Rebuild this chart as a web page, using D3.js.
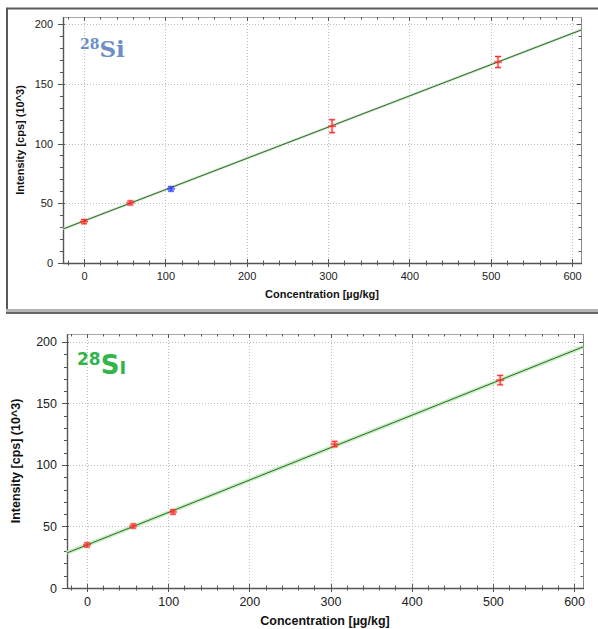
<!DOCTYPE html>
<html>
<head>
<meta charset="utf-8">
<script src="https://cdn.jsdelivr.net/npm/d3@7"></script>
<style>
  body { margin: 0; background: #fff; }
  svg { display: block; font-family: "Liberation Sans", Arial, sans-serif; }
</style>
</head>
<body>
<svg width="598" height="629"></svg>
<script>
// tick values shared by both panels
var xTicks = [0, 100, 200, 300, 400, 500, 600];
var yTicks = [0, 50, 100, 150, 200];

// upper calibration (blue label)
var concTop = [0, 57, 107, 305, 509];
var intensTop = [34.6, 50.3, 62, 114.5, 168.2];
var errTop = [0.9, 0.9, 1, 4.6, 3.8];
var kindTop = ['std', 'std', 'check', 'std', 'std'];
var fitTop = [35.2, 0.2615]; // intercept, slope

// lower calibration (green label)
var concBot = [0, 57, 106, 305, 509];
var intensBot = [35, 50.4, 61.8, 117, 169];
var errBot = [0.9, 0.9, 1, 1.4, 3];
var kindBot = ['std', 'std', 'std', 'std', 'std'];
var fitBot = [35.0, 0.2635];

var svg = d3.select('svg');

// frame around the upper screenshot
svg.append('rect').attr('x', 7).attr('y', 8.5).attr('width', 600).attr('height', 302)
  .attr('fill', 'none').attr('stroke', '#5a5a5a').attr('stroke-width', 2);
svg.append('rect').attr('x', 6).attr('y', 309).attr('width', 600).attr('height', 3).attr('fill', '#b5b5b5');
svg.append('rect').attr('x', 6).attr('y', 312).attr('width', 600).attr('height', 2).attr('fill', '#666');

var panels = [
  {left: 63, top: 17, right: 581, bottom: 263, xdom: [-25.8, 611], ydom: [0, 205.9],
   conc: concTop, intens: intensTop, err: errTop, kind: kindTop, fit: fitTop,
   tickFont: 11, titleFont: 11, xTitleY: 295, yTitleX: 21, labelY: 277,
   tag: {x: 80, y: 57, color: '#6b8fc5', serif: true, sup: 14, main: 23},
   band: 2.6, bandColor: '#c4ecbd'},
  {left: 67, top: 334, right: 583, bottom: 588, xdom: [-24.6, 611], ydom: [0, 206.5],
   conc: concBot, intens: intensBot, err: errBot, kind: kindBot, fit: fitBot,
   tickFont: 12.5, titleFont: 12.5, xTitleY: 622, yTitleX: 17, labelY: 603,
   tag: {x: 77, y: 374, color: '#33b54a', serif: false, sup: 17, main: 26},
   band: 4, bandColor: '#c2f2bb'}
];

panels.forEach(function(p) {
  var x = d3.scaleLinear().domain(p.xdom).range([p.left, p.right]);
  var y = d3.scaleLinear().domain(p.ydom).range([p.bottom, p.top]);
  var g = svg.append('g');

  // dotted grid
  g.selectAll('.gx').data(xTicks).enter().append('line')
    .attr('x1', function(d) { return Math.round(x(d)) + 0.5; })
    .attr('x2', function(d) { return Math.round(x(d)) + 0.5; })
    .attr('y1', p.top).attr('y2', p.bottom)
    .attr('stroke', '#bdbdbd').attr('stroke-dasharray', '1,2');
  g.selectAll('.gy').data(yTicks.slice(1)).enter().append('line')
    .attr('y1', function(d) { return Math.round(y(d)) + 0.5; })
    .attr('y2', function(d) { return Math.round(y(d)) + 0.5; })
    .attr('x1', p.left).attr('x2', p.right)
    .attr('stroke', '#bdbdbd').attr('stroke-dasharray', '1,2');

  // plot box: light top/right, dark axes
  g.append('line').attr('x1', p.left).attr('x2', p.right).attr('y1', p.top + 0.5).attr('y2', p.top + 0.5)
    .attr('stroke', '#a8a8a8');
  g.append('line').attr('x1', p.right + 0.5).attr('x2', p.right + 0.5).attr('y1', p.top).attr('y2', p.bottom)
    .attr('stroke', '#8a8a8a');

  var minorX = d3.range(-20, 611, 20);
  var minorY = d3.range(10, 206, 10);

  // ticks on top and right edges, pointing inward
  g.selectAll('.tt').data(minorX).enter().append('line')
    .attr('x1', function(d) { return Math.round(x(d)) + 0.5; })
    .attr('x2', function(d) { return Math.round(x(d)) + 0.5; })
    .attr('y1', p.top).attr('y2', function(d) { return p.top + (d % 100 === 0 ? 4 : 2.5); })
    .attr('stroke', '#555');
  g.selectAll('.tr').data(minorY).enter().append('line')
    .attr('y1', function(d) { return Math.round(y(d)) + 0.5; })
    .attr('y2', function(d) { return Math.round(y(d)) + 0.5; })
    .attr('x1', p.right).attr('x2', function(d) { return p.right - (d % 50 === 0 ? 4 : 2.5); })
    .attr('stroke', '#555');

  // bottom axis
  var xAxis = d3.axisBottom(x).tickValues(xTicks).tickSize(0).tickPadding(8);
  var ax = g.append('g').attr('transform', 'translate(0,' + p.bottom + ')').call(xAxis);
  ax.select('.domain').remove();
  ax.selectAll('text').attr('font-size', p.tickFont).attr('fill', '#222')
    .attr('font-family', '"Liberation Sans", Arial, sans-serif')
    .attr('dy', null).attr('y', p.labelY - p.bottom).attr('dominant-baseline', 'middle');
  g.append('line').attr('x1', p.left).attr('x2', p.right + 1).attr('y1', p.bottom + 0.5).attr('y2', p.bottom + 0.5)
    .attr('stroke', '#555').attr('stroke-width', 1.4);
  g.selectAll('.tb').data(minorX).enter().append('line')
    .attr('x1', function(d) { return Math.round(x(d)) + 0.5; })
    .attr('x2', function(d) { return Math.round(x(d)) + 0.5; })
    .attr('y1', function(d) { return p.bottom - (d % 100 === 0 ? 4 : 2.5); })
    .attr('y2', function(d) { return p.bottom + (d % 100 === 0 ? 4 : 2.5); })
    .attr('stroke', '#555');

  // left axis
  var yAxis = d3.axisLeft(y).tickValues(yTicks).tickSize(0).tickPadding(10);
  var ay = g.append('g').attr('transform', 'translate(' + p.left + ',0)').call(yAxis);
  ay.select('.domain').remove();
  ay.selectAll('text').attr('font-size', p.tickFont).attr('fill', '#222')
    .attr('font-family', '"Liberation Sans", Arial, sans-serif');
  g.append('line').attr('x1', p.left + 0.5).attr('x2', p.left + 0.5).attr('y1', p.top).attr('y2', p.bottom + 1)
    .attr('stroke', '#555').attr('stroke-width', 1.4);
  g.selectAll('.tl').data([0].concat(minorY)).enter().append('line')
    .attr('y1', function(d) { return Math.round(y(d)) + 0.5; })
    .attr('y2', function(d) { return Math.round(y(d)) + 0.5; })
    .attr('x1', function(d) { return p.left - (d % 50 === 0 ? 5 : 3); })
    .attr('x2', function(d) { return p.left + (d % 50 === 0 ? 2 : 1); })
    .attr('stroke', '#555');

  // axis titles
  g.append('text').attr('x', (p.left + p.right) / 2).attr('y', p.xTitleY)
    .attr('text-anchor', 'middle').attr('dominant-baseline', 'middle')
    .attr('font-size', p.titleFont).attr('font-weight', 'bold').attr('fill', '#111')
    .text('Concentration [µg/kg]');
  g.append('text')
    .attr('transform', 'translate(' + p.yTitleX + ',' + (p.top + p.bottom) / 2 + ') rotate(-90)')
    .attr('text-anchor', 'middle').attr('dominant-baseline', 'middle')
    .attr('font-size', p.titleFont).attr('font-weight', 'bold').attr('fill', '#111')
    .text('Intensity [cps] (10^3)');

  // calibration line with its light green band
  var lineX = p.xdom;
  var line = d3.line()
    .x(function(d) { return x(d); })
    .y(function(d) { return y(p.fit[0] + p.fit[1] * d); });
  g.append('path').datum(lineX).attr('d', line)
    .attr('stroke', p.bandColor).attr('stroke-width', p.band).attr('fill', 'none');
  g.append('path').datum(lineX).attr('d', line)
    .attr('stroke', '#3a5f3a').attr('stroke-width', 1).attr('fill', 'none');

  // points with error bars
  var pts = p.conc.map(function(c, i) {
    return {c: c, v: p.intens[i], e: p.err[i], k: p.kind[i]};
  });
  var pg = g.selectAll('.pt').data(pts).enter().append('g')
    .attr('stroke', function(d) { return d.k === 'check' ? '#2a3cff' : '#ff2a2a'; });
  [{w: 2.6, o: 0.3}, {w: 1, o: 1}].forEach(function(s) {
    pg.append('line')
      .attr('x1', function(d) { return x(d.c); }).attr('x2', function(d) { return x(d.c); })
      .attr('y1', function(d) { return y(d.v + d.e) - 1; }).attr('y2', function(d) { return y(d.v - d.e) + 1; })
      .attr('stroke-width', s.w).attr('stroke-opacity', s.o);
    pg.append('line')
      .attr('x1', function(d) { return x(d.c) - 3; }).attr('x2', function(d) { return x(d.c) + 3; })
      .attr('y1', function(d) { return y(d.v + d.e) - 1; }).attr('y2', function(d) { return y(d.v + d.e) - 1; })
      .attr('stroke-width', s.w).attr('stroke-opacity', s.o);
    pg.append('line')
      .attr('x1', function(d) { return x(d.c) - 3; }).attr('x2', function(d) { return x(d.c) + 3; })
      .attr('y1', function(d) { return y(d.v - d.e) + 1; }).attr('y2', function(d) { return y(d.v - d.e) + 1; })
      .attr('stroke-width', s.w).attr('stroke-opacity', s.o);
    pg.append('line')
      .attr('x1', function(d) { return x(d.c) - 4; }).attr('x2', function(d) { return x(d.c) + 4; })
      .attr('y1', function(d) { return y(d.v); }).attr('y2', function(d) { return y(d.v); })
      .attr('stroke-width', s.w).attr('stroke-opacity', s.o);
  });

  // isotope tag
  var t = g.append('text').attr('x', p.tag.x).attr('y', p.tag.y).attr('fill', p.tag.color)
    .attr('font-weight', 'bold')
    .attr('font-family', p.tag.serif ? '"DejaVu Serif", serif' : '"DejaVu Sans", sans-serif');
  t.append('tspan').attr('font-size', p.tag.sup).attr('dy', -p.tag.main * 0.33).text('28');
  t.append('tspan').attr('font-size', p.tag.main).attr('dy', p.tag.main * 0.33)
    .style('font-variant', p.tag.serif ? 'normal' : 'small-caps').text('Si');
});
</script>
</body>
</html>
